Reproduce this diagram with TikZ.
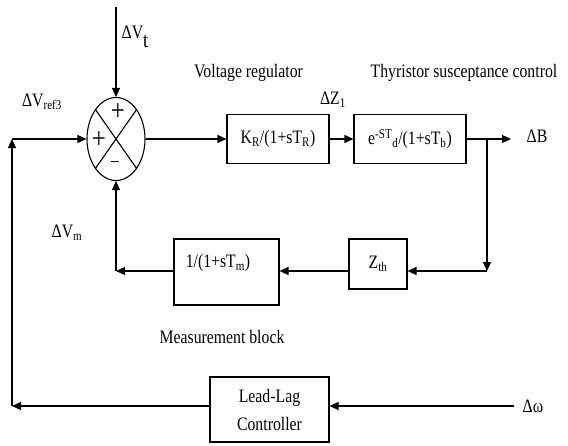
\documentclass[tikz,border=0pt]{standalone}
\usepackage{fontspec}
\setmainfont{Liberation Serif}[FakeStretch=0.83]
\usetikzlibrary{arrows.meta,shapes.geometric}
\begin{document}
\begin{tikzpicture}[x=1pt,y=-1pt,
  every node/.style={font=\fontsize{19}{24}\selectfont, inner sep=0pt},
  blk/.style={draw, line width=1.1pt},
  conn/.style={line width=1.1pt, -{Triangle[length=9pt,width=8pt]}},
  wire/.style={line width=1.1pt},
  sgn/.style={font=\fontsize{30}{30}\selectfont}]
\useasboundingbox (0,0) rectangle (568,445);

% summing junction
\node[draw, ellipse, line width=1.1pt, minimum width=58pt, minimum height=83pt] (sum) at (116,139) {};
\draw[wire] ([shift={(135:29pt and 41.5pt)}]sum.center) -- ([shift={(-45:29pt and 41.5pt)}]sum.center);
\draw[wire] ([shift={(45:29pt and 41.5pt)}]sum.center) -- ([shift={(-135:29pt and 41.5pt)}]sum.center);
\node[sgn] (splus1) at (118,112) {+};
\node[sgn] (splus2) at (99,140) {+};
\node (sminus) at (115,164) {--};

% blocks
\node[blk, minimum width=102pt, minimum height=49pt] (vr) at (278,139) {K\textsubscript{R}/(1+sT\textsubscript{R})};
\node[blk, minimum width=112pt, minimum height=49pt] (th) at (410,139) {e\textsuperscript{-ST}\textsubscript{d}/(1+sT\textsubscript{b})};
\node[blk, minimum width=58pt, minimum height=50pt] (zth) at (378,264) {Z\textsubscript{th}};
\node[blk, minimum width=105pt, minimum height=66pt] (meas) at (226.5,272) {};
\node (meastxt) at (218,263) {1/(1+sT\textsubscript{m})};
\node[blk, minimum width=119pt, minimum height=65pt, align=center, font=\fontsize{19}{28}\selectfont] (ll) at (269.5,409.5) {Lead-Lag\\Controller};

% labels
\node (lvt) at (135,37) {ΔV\raisebox{-9pt}{\fontsize{22}{24}\selectfont t}};
\node (lref) at (42,102) {ΔV\textsubscript{ref3}};
\node (lvr) at (248.5,73) {Voltage regulator};
\node (lthy) at (464,73) {Thyristor susceptance control};
\node (lz1) at (333,100) {ΔZ\textsubscript{1}};
\node (lb) at (537,136) {ΔB};
\node (lvm) at (67,233) {ΔV\textsubscript{m}};
\node (lmeas) at (222,337) {Measurement block};
\node (lw) at (533,406) {Δω};

% connectors
\coordinate (vtin) at (116,7);
\coordinate (bl) at (12,406);
\coordinate (tl) at (12,139);
\coordinate (br) at (487,139);
\coordinate (bout) at (511,139);
\coordinate (cr) at (487,271);
\coordinate (mr) at (116,271);
\coordinate (win) at (514,406);

\draw[conn] (vtin) -- (sum.north);
\draw[conn] (ll.west |- bl) -- (bl);
\draw[conn] (bl) -- (tl);
\draw[conn] (tl) -- (sum.west);
\draw[conn] (sum.east) -- (vr.west);
\draw[conn] (vr.east) -- (th.west);
\draw[wire] (th.east) -- (br);
\draw[conn] (br) -- (bout);
\draw[conn] (br) -- (cr);
\draw[conn] (cr) -- (zth.east |- cr);
\draw[conn] (zth.west |- cr) -- (meas.east |- cr);
\draw[conn] (meas.west |- mr) -- (mr);
\draw[conn] (mr) -- (sum.south);
\draw[conn] (win) -- (ll.east |- win);
\end{tikzpicture}
\end{document}
